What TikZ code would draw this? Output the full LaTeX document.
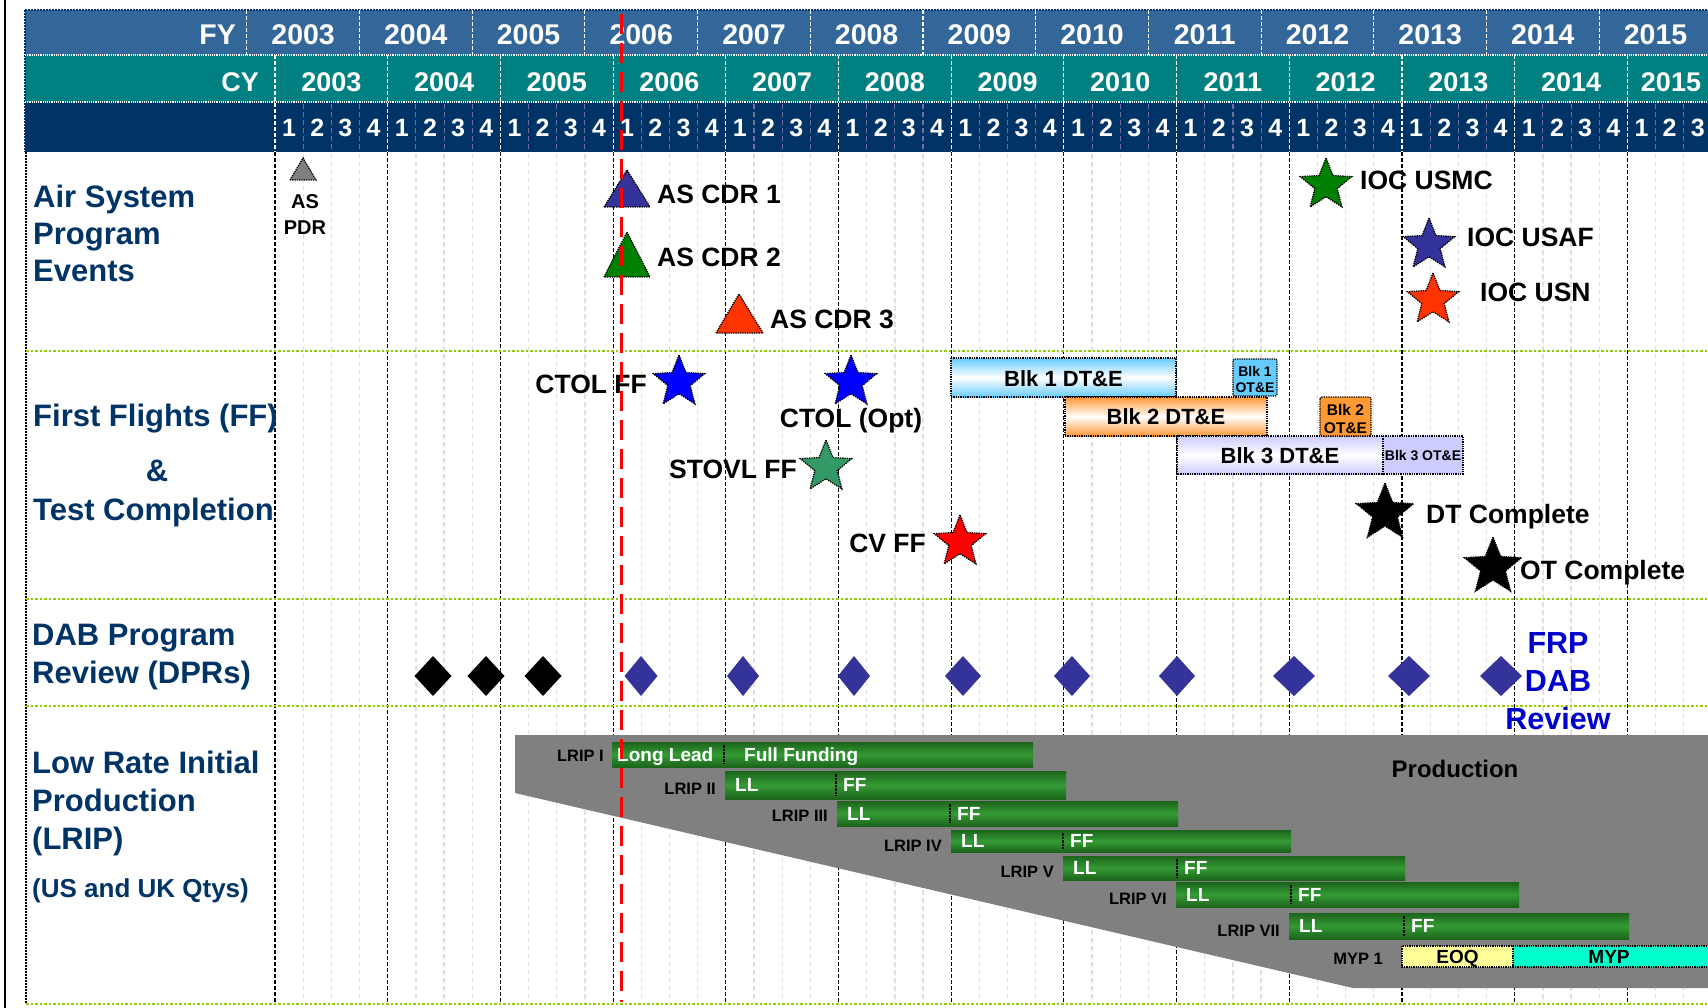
\documentclass[tikz,border=0pt]{standalone}
\usepackage{fontspec}
\setmainfont{Liberation Sans}
\usetikzlibrary{shapes.geometric}
\definecolor{fyblue}{RGB}{51,102,153}
\definecolor{cyteal}{RGB}{0,128,128}
\definecolor{qnavy}{RGB}{0,51,102}
\definecolor{secnavy}{RGB}{0,51,102}
\definecolor{qline}{RGB}{110,110,160}
\definecolor{seclime}{RGB}{153,204,0}
\definecolor{shapenavy}{RGB}{51,51,153}
\definecolor{evgreen}{RGB}{0,128,0}
\definecolor{redorange}{RGB}{255,51,0}
\definecolor{seagrn}{RGB}{51,153,102}
\definecolor{frpblue}{RGB}{0,0,204}
\definecolor{prodgrey}{RGB}{128,128,128}
\definecolor{blkone}{RGB}{102,204,255}
\definecolor{blktwo}{RGB}{255,153,51}
\definecolor{blkthree}{RGB}{204,204,255}
\definecolor{eoqyel}{RGB}{255,255,153}
\definecolor{mypaqua}{RGB}{0,255,204}
\definecolor{lripdark}{RGB}{28,100,28}
\definecolor{lripmid}{RGB}{52,155,52}
\definecolor{gridgrey}{RGB}{224,224,224}
\newcommand\fsz[1]{\fontsize{#1}{#1}\selectfont\bfseries}
\begin{document}
\begin{tikzpicture}[x=1pt,y=-1pt,
  hdrtext/.style={text=white, inner sep=0pt, anchor=base, font=\fsz{27}},
  qtext/.style={text=white, inner sep=0pt, anchor=base, font=\fsz{25}},
  seclabel/.style={text=secnavy, font=\fsz{31}, anchor=base west, inner sep=0pt},
  evtext/.style={font=\fsz{26.5}, anchor=base west, inner sep=0pt},
  evstar/.style={star, star points=5, star point ratio=2.3, inner sep=0pt, draw=black, densely dotted, line width=1.3},
  evshape/.style={draw=black, densely dotted, line width=1.3},
  blkbar/.style={draw=black, densely dotted, line width=1.3},
  blktext/.style={font=\fsz{22}, anchor=base, inner sep=0pt},
  smalltext/.style={font=\fsz{14}, anchor=base, inner sep=0pt},
  lripbar/.style={top color=lripdark, bottom color=lripdark, middle color=lripmid},
  lriplabel/.style={font=\fsz{16.5}, anchor=base east, inner sep=0pt},
  lriptext/.style={text=white, font=\fsz{19}, anchor=base west, inner sep=0pt},
  lripdiv/.style={black, densely dotted, line width=2.5},
  yearline/.style={black, line width=1.1, dash pattern=on 4 off 2},
  hyearline/.style={white, line width=1.1, dash pattern=on 4 off 2},
  qgrid/.style={gridgrey, line width=1.3, dash pattern=on 5 off 3},
  hqgrid/.style={qline, line width=1.1, dash pattern=on 5 off 3},
  secline/.style={seclime, line width=2.5, dash pattern=on 2.5 off 2},
  redline/.style={red, line width=3.5, dash pattern=on 20 off 9}
]
\useasboundingbox (0,0) rectangle (1708,1008);
\clip (0,0) rectangle (1708,1008);
\fill[white] (0,0) rectangle (1708,1008);

% ---------- header ----------
\fill[fyblue] (25,10) rectangle (1708,55);
\fill[cyteal] (25,55) rectangle (1708,102);
\fill[qnavy] (25,102) rectangle (1708,152);
\draw[qnavy, line width=2, densely dotted] (25,10) -- (1708,10);
\draw[qnavy, line width=2, densely dotted] (25,10) -- (25,152);
\draw[white, line width=1.2, densely dotted] (25,55) -- (1708,55);
\draw[white, line width=1.2, densely dotted] (25,102) -- (1708,102);
\foreach \k in {0,...,12} {
  \draw[hyearline] ({246.8+\k*112.7},10) -- ({246.8+\k*112.7},55);
}
\foreach \k in {0,...,12} {
  \draw[hyearline] ({275+\k*112.7},55) -- ({275+\k*112.7},152);
}
\foreach \j in {1,...,51} {
  \pgfmathtruncatemacro\qm{mod(\j,4)}
  \ifnum\qm>0
    \draw[hqgrid] ({275+\j*28.175},104) -- ({275+\j*28.175},150);
  \fi
}
\node[hdrtext, font=\fsz{28.5}, anchor=base east] (fylab) at (236,44.2) {FY};
\node[hdrtext, anchor=base east] (cylab) at (259,91.4) {CY};
\foreach \k in {0,...,12} {
  \pgfmathtruncatemacro\yr{2003+\k}
  \node[hdrtext, font=\fsz{28.5}] (fy\k) at ({246.8+(\k+0.5)*112.7},44.6) {\yr};
}
\foreach \k in {0,...,11} {
  \pgfmathtruncatemacro\yr{2003+\k}
  \node[hdrtext] (cy\k) at ({275+(\k+0.5)*112.7},91.4) {\yr};
}
\node[hdrtext] (cy12) at (1671,91.4) {2015};
\foreach \j in {0,...,50} {
  \pgfmathtruncatemacro\d{mod(\j,4)+1}
  \node[qtext] (q\j) at ({275+(\j+0.5)*28.175},136.5) {\d};
}

% ---------- body grid ----------
\foreach \j in {1,...,51} {
  \pgfmathtruncatemacro\qm{mod(\j,4)}
  \ifnum\qm>0
    \draw[qgrid] ({275+\j*28.175},154) -- ({275+\j*28.175},1003);
  \fi
}
\foreach \k in {0,...,12} {
  \draw[yearline] ({275+\k*112.7},152) -- ({275+\k*112.7},1004);
}
\draw[black, line width=2, densely dotted] (26,152) -- (26,1004);
\foreach \yy in {351,599,706,1004} {
  \draw[secline] (26,\yy) -- (1708,\yy);
}
\draw[black, line width=2] (4.5,0) -- (4.5,1008);

% ---------- section labels ----------
\node[seclabel] (l1a) at (33,207.3) {Air System};
\node[seclabel] (l1b) at (33,244.5) {Program};
\node[seclabel] (l1c) at (33,281.7) {Events};
\node[seclabel] (l2a) at (33,426.7) {First Flights (FF)};
\node[seclabel, anchor=base] (l2b) at (157,481.7) {\&};
\node[seclabel] (l2c) at (33,520) {Test Completion};
\node[seclabel] (l3a) at (32,645) {DAB Program};
\node[seclabel] (l3b) at (32,683) {Review (DPRs)};
\node[seclabel] (l4a) at (32,773) {Low Rate Initial};
\node[seclabel] (l4b) at (32,811) {Production};
\node[seclabel] (l4c) at (32,849) {(LRIP)};
\node[seclabel, font=\fsz{26}] (l4d) at (32,897.5) {(US and UK Qtys)};

% ---------- air system events ----------
\draw[evshape, fill=prodgrey] (290,180) -- (303,158) -- (316,180) -- cycle;
\node[font=\fsz{20}, anchor=base, inner sep=0pt] (pdra) at (305,209) {AS};
\node[font=\fsz{20}, anchor=base, inner sep=0pt] (pdrb) at (305,235) {PDR};
\draw[evshape, fill=shapenavy] (604,207) -- (627,170) -- (650,207) -- cycle;
\node[evtext] (cdr1) at (657,203.5) {AS CDR 1};
\draw[evshape, fill=evgreen] (604,277) -- (627,232) -- (650,277) -- cycle;
\node[evtext] (cdr2) at (657,266.5) {AS CDR 2};
\draw[evshape, fill=redorange] (716,333) -- (739,294) -- (763,333) -- cycle;
\node[evtext] (cdr3) at (770,328) {AS CDR 3};
\node[evstar, fill=evgreen, minimum size=54] (susmc) at (1326,185) {};
\node[evtext] (tusmc) at (1360,190) {IOC USMC};
\node[evstar, fill=shapenavy, minimum size=54] (susaf) at (1429,245) {};
\node[evtext] (tusaf) at (1467,246.5) {IOC USAF};
\node[evstar, fill=redorange, minimum size=54] (susn) at (1433,300) {};
\node[evtext] (tusn) at (1480,301.5) {IOC USN};

% ---------- first flights & test ----------
\node[evstar, fill=blue, minimum size=54] (sctol) at (679,382) {};
\node[evtext, anchor=base east] (tctol) at (647,393) {CTOL FF};
\node[evstar, fill=blue, minimum size=54] (sopt) at (851,382) {};
\node[evtext, anchor=base] (topt) at (851,427) {CTOL (Opt)};
\node[evstar, fill=seagrn, minimum size=54] (sstovl) at (826,467) {};
\node[evtext, anchor=base east] (tstovl) at (797,478) {STOVL FF};
\node[evstar, fill=red, minimum size=54] (scv) at (960,542) {};
\node[evtext, anchor=base east] (tcv) at (926,552) {CV FF};
\node[evstar, fill=black, minimum size=60] (sdt) at (1385,513) {};
\node[evtext] (tdt) at (1426,523) {DT Complete};
\node[evstar, fill=black, minimum size=60] (sot) at (1493,567) {};
\node[evtext] (tot) at (1520,579) {OT Complete};

\shade[top color=blkone, bottom color=blkone, middle color=white] (951,358) rectangle (1176,397);
\draw[blkbar] (951,358) rectangle (1176,397);
\node[blktext] (b1dt) at (1063.5,386) {Blk 1 DT\&E};
\shade[top color=blktwo, bottom color=blktwo, middle color=white] (1065,397) rectangle (1267,436);
\draw[blkbar] (1065,397) rectangle (1267,436);
\node[blktext] (b2dt) at (1166,424.5) {Blk 2 DT\&E};
\shade[top color=blkthree, bottom color=blkthree, middle color=white] (1177,436) rectangle (1383,474);
\draw[blkbar] (1177,436) rectangle (1383,474);
\node[blktext] (b3dt) at (1280,463) {Blk 3 DT\&E};
\draw[blkbar, fill=blkone, rounded corners=2] (1233,359) rectangle (1277,396);
\node[smalltext] (b1ota) at (1255,376) {Blk 1};
\node[smalltext] (b1otb) at (1255,392.5) {OT\&E};
\draw[blkbar, fill=blktwo, rounded corners=2] (1320,397) rectangle (1371,436);
\node[smalltext, font=\fsz{15.5}] (b2ota) at (1345.5,415) {Blk 2};
\node[smalltext, font=\fsz{15.5}] (b2otb) at (1345.5,433) {OT\&E};
\draw[blkbar, fill=blkthree] (1383,436) rectangle (1463,474);
\node[smalltext] (b3ot) at (1423,460) {Blk 3 OT\&E};

% ---------- DAB reviews ----------
\foreach \cx in {433,486,543} {
  \fill[black] (\cx,656) -- ({\cx+18.5},676) -- (\cx,696) -- ({\cx-18.5},676) -- cycle;
}
\foreach \cx/\hw in {641/16.5,743/16,854/16,963/18,1072/18,1177/18,1294/21,1409/21,1501/21} {
  \fill[shapenavy] (\cx,656) -- ({\cx+\hw},676) -- (\cx,696) -- ({\cx-\hw},676) -- cycle;
}
\node[font=\fsz{30.5}, text=frpblue, anchor=base, inner sep=0pt] (frpa) at (1558,653) {FRP};
\node[font=\fsz{30.5}, text=frpblue, anchor=base, inner sep=0pt] (frpb) at (1558,691.5) {DAB};
\node[font=\fsz{30.5}, text=frpblue, anchor=base, inner sep=0pt] (frpc) at (1558,729) {Review};

% ---------- LRIP ----------
\fill[prodgrey] (515,735) -- (1708,735) -- (1708,988) -- (1353,988) -- (515,793) -- cycle;
\node[font=\fsz{24}, anchor=base, inner sep=0pt] (prod) at (1455,777.5) {Production};

\shade[lripbar] (612,742) rectangle (1033,767);
\draw[lripdiv] (724,745) -- (724,764);
\node[lriplabel] (lr1) at (604,761) {LRIP I};
\node[lriptext] (lr1a) at (617,761.3) {Long Lead};
\node[lriptext] (lr1b) at (744,761.3) {Full Funding};

\foreach \n/\lab/\xa/\xd/\xb/\ya/\yb/\ly in {
  2/LRIP II/725/836/1066/771/799/794,
  3/LRIP III/837/950/1178/801/826/821.5,
  4/LRIP IV/951/1063/1291/830/852/851,
  5/LRIP V/1063/1177/1405/856/880/877.5,
  6/LRIP VI/1176/1291/1519/882/907/904,
  7/LRIP VII/1289/1404/1629/913/939/936} {
  \shade[lripbar] (\xa,\ya) rectangle (\xb,\yb);
  \draw[lripdiv] (\xd,{\ya+3}) -- (\xd,{\yb-3});
  \node[lriplabel] (lr\n) at ({\xa-9},\ly) {\lab};
  \node[lriptext] (lr\n a) at ({\xa+10},{(\ya+\yb)/2+6.8}) {LL};
  \node[lriptext] (lr\n b) at ({\xd+7},{(\ya+\yb)/2+6.8}) {FF};
}

\node[lriplabel] (myplab) at (1383,964) {MYP 1};
\draw[blkbar, fill=eoqyel] (1402,946) rectangle (1513,967);
\draw[blkbar, fill=mypaqua] (1513,946) rectangle (1712,967);
\node[font=\fsz{19}, anchor=base, inner sep=0pt] (eoq) at (1457.5,963) {EOQ};
\node[font=\fsz{19}, anchor=base, inner sep=0pt] (myp) at (1609,963) {MYP};

% ---------- current date line ----------
\draw[redline] (621.5,14) -- (621.5,1002);
\end{tikzpicture}
\end{document}
